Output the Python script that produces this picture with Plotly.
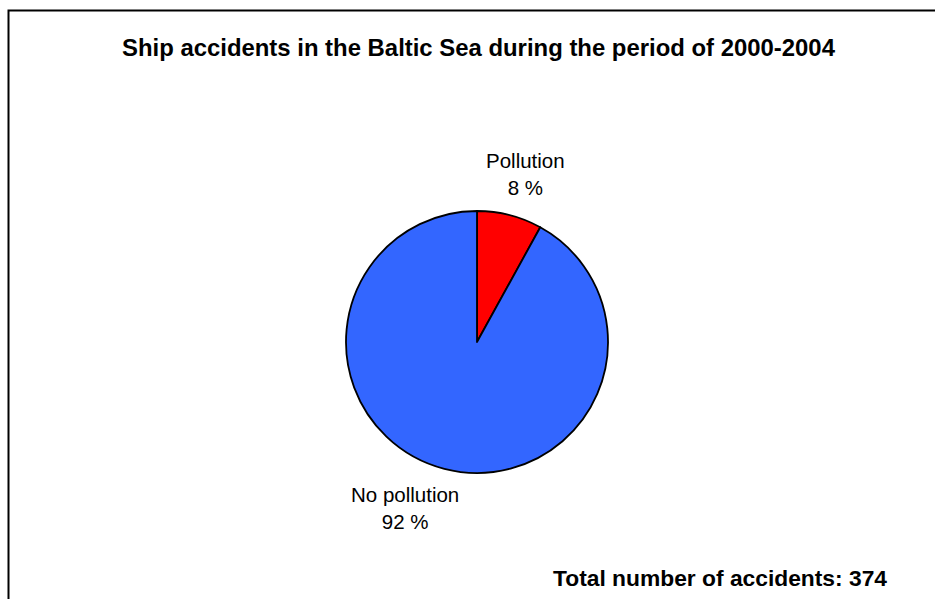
import plotly.graph_objects as go

# Ship accidents in the Baltic Sea, 2000-2004
categories = ["Pollution", "No pollution"]
accidents = [30, 344]
colors = ["#FF0000", "#3366FF"]
title_text = "Ship accidents in the Baltic Sea during the period of 2000-2004"

W, H = 935, 599
total = sum(accidents)


def px(x, y):
    """Pixel position -> paper coordinates (margins are zero)."""
    return x / W, 1 - y / H


cx, cy, r = 477, 342, 131
x0, y0 = px(cx - r, cy + r)
x1, y1 = px(cx + r, cy - r)

fig = go.Figure(
    go.Pie(
        labels=categories,
        values=accidents,
        marker=dict(colors=colors, line=dict(color="black", width=1.8)),
        sort=False,
        direction="clockwise",
        rotation=0,
        textinfo="none",
        hoverinfo="label+value+percent",
        showlegend=False,
        domain=dict(x=[x0, x1], y=[y0, y1]),
    )
)

font_main = "Liberation Sans, Arial, sans-serif"

annotations = []
# Slice labels with percentages
label_pos = {"Pollution": (525, 174), "No pollution": (405, 508)}
for cat, val in zip(categories, accidents):
    lx, ly = px(*label_pos[cat])
    pct = round(val / total * 100)
    annotations.append(dict(
        x=lx, y=ly, xref="paper", yref="paper", xanchor="center", yanchor="middle",
        text=f"{cat}<br>{pct} %", showarrow=False, align="center",
        font=dict(family=font_main, size=20.5, color="black"),
    ))

tx, ty = px(479, 47)
annotations.append(dict(
    x=tx, y=ty, xref="paper", yref="paper", xanchor="center", yanchor="middle",
    text=f"<b>{title_text}</b>", showarrow=False,
    font=dict(family=font_main, size=23.9, color="black"),
))

bx, by = px(889, 578)
annotations.append(dict(
    x=bx, y=by, xref="paper", yref="paper", xanchor="right", yanchor="middle",
    text=f"<b>Total number of accidents: {total}</b>", showarrow=False,
    font=dict(family=font_main, size=22.8, color="black"),
))

fx0, fy0 = px(8.5, 10.5)
fig.update_layout(
    width=W, height=H,
    margin=dict(l=0, r=0, t=0, b=0),
    paper_bgcolor="white", plot_bgcolor="white",
    annotations=annotations,
    shapes=[dict(type="rect", xref="paper", yref="paper",
                 x0=fx0, x1=1.05, y0=-0.05, y1=fy0,
                 line=dict(color="black", width=2))],
)

fig.write_html("out.html")
